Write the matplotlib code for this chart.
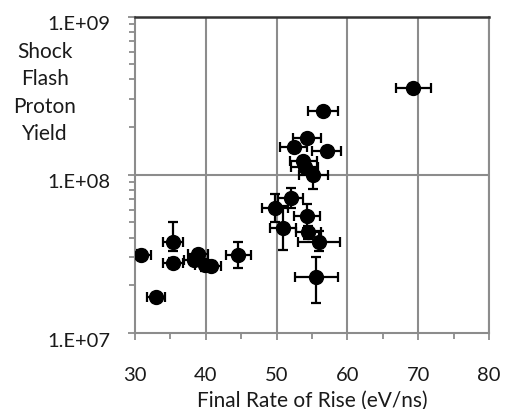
import matplotlib
matplotlib.use("Agg")
import matplotlib.pyplot as plt
import matplotlib.transforms as mtransforms
import numpy as np
from matplotlib.ticker import FixedLocator, LogLocator, NullFormatter

plt.rcParams['font.family'] = ['Lato', 'DejaVu Sans']

# Final rate of rise (eV/ns) and shock-flash proton yield
rate = [69.3, 56.6, 54.3, 52.4, 57.1, 53.8, 54.0, 55.2,
        52.0, 49.8, 54.3, 50.9, 54.5, 56.0, 55.6,
        30.9, 35.4, 35.4, 33.0, 38.9, 38.3, 39.9, 40.8, 44.6]
yield_ = [3.54e8, 2.52e8, 1.71e8, 1.50e8, 1.41e8, 1.23e8, 1.12e8, 1.00e8,
          7.12e7, 6.15e7, 5.48e7, 4.60e7, 4.34e7, 3.78e7, 2.25e7,
          3.13e7, 3.78e7, 2.77e7, 1.68e7, 3.16e7, 2.91e7, 2.67e7, 2.65e7, 3.12e7]
rate_err = [2.5, 2.1, 2.0, 1.9, 2.05, 1.9, 1.9, 2.1,
            1.8, 1.8, 1.8, 1.85, 1.8, 3.0, 3.05,
            1.4, 1.4, 1.4, 1.3, 1.4, 1.4, 1.4, 1.4, 1.8]
yield_err_lo = [0.2e8, 0.15e8, 0.1e8, 0.08e8, 0.08e8, 0.07e8, 0.07e8, 0.19e8,
                0.97e7, 1.1e7, 0.87e7, 1.26e7, 0.4e7, 0.5e7, 0.71e7,
                0.2e7, 0.5e7, 0.2e7, 0.1e7, 0.2e7, 0.2e7, 0.2e7, 0.2e7, 0.54e7]
yield_err_hi = [0.2e8, 0.15e8, 0.1e8, 0.08e8, 0.08e8, 0.07e8, 0.07e8, 0.1e8,
                1.12e7, 1.39e7, 1.04e7, 1.74e7, 0.4e7, 0.6e7, 0.76e7,
                0.2e7, 1.27e7, 0.2e7, 0.1e7, 0.2e7, 0.2e7, 0.2e7, 0.2e7, 0.65e7]

x_ticks = [30, 40, 50, 60, 70, 80]
y_ticks = [1e7, 1e8, 1e9]
y_tick_labels = ['1.E+07', '1.E+08', '1.E+09']

fig = plt.figure(figsize=(5.09, 4.10), dpi=100)
ax = fig.add_axes([0.2652, 0.1854, 0.6955, 0.7719])

grid_col = '#8c8c8c'
text_col = '#1a1a1a'
ax.set_yscale('log')
ax.set_xlim(30, 80)
ax.set_ylim(1e7, 1e9)

# grid: vertical lines at each major x tick, horizontal at 1e8
for xv in x_ticks[1:]:
    ax.axvline(xv, color=grid_col, lw=1.5, zorder=1)
ax.axhline(1e8, color=grid_col, lw=1.5, zorder=1)

ax.errorbar(rate, yield_, xerr=rate_err, yerr=[yield_err_lo, yield_err_hi],
            fmt='o', color='black', ms=10, elinewidth=1.6, capsize=3.5,
            capthick=1.6, zorder=3)

ax.xaxis.set_major_locator(FixedLocator(x_ticks))
ax.xaxis.set_minor_locator(FixedLocator([35, 45, 55, 65, 75]))
ax.yaxis.set_major_locator(FixedLocator(y_ticks))
ax.set_yticklabels(y_tick_labels)
ax.yaxis.set_minor_locator(LogLocator(base=10, subs=np.arange(2, 10)))
ax.yaxis.set_minor_formatter(NullFormatter())

ax.tick_params(axis='both', which='both', direction='out', color=grid_col,
               width=1.3, labelsize=14.5, labelcolor=text_col)
ax.tick_params(axis='x', which='major', length=5, pad=19)
ax.tick_params(axis='x', which='minor', length=4)
ax.tick_params(axis='y', which='major', length=5, pad=13)
ax.tick_params(axis='y', which='minor', length=4)

# y tick labels sit slightly below their gridline
shift = mtransforms.ScaledTranslation(0, -4 / 72, fig.dpi_scale_trans)
for lbl in ax.get_yticklabels():
    lbl.set_transform(lbl.get_transform() + shift)

for side in ['left', 'bottom', 'right']:
    ax.spines[side].set_color(grid_col)
    ax.spines[side].set_linewidth(1.5)
ax.spines['top'].set_color('#333333')
ax.spines['top'].set_linewidth(1.8)

ax.set_xlabel('Final Rate of Rise (eV/ns)', fontsize=15, color=text_col,
              labelpad=5)
fig.text(45 / 509, 1 - 93 / 410, 'Shock\nFlash\nProton\nYield', ha='center',
         va='center', fontsize=15, color=text_col, linespacing=1.45)

fig.savefig('out.png', dpi=100)
